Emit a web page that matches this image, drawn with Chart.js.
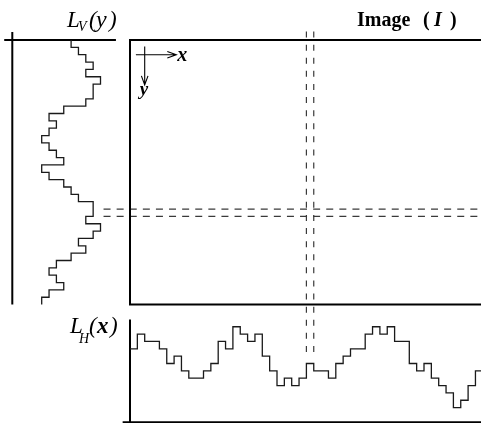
<!DOCTYPE html>
<html>
<head>
<meta charset="utf-8">
<script src="https://cdn.jsdelivr.net/npm/chart.js@4.4.1/dist/chart.umd.min.js"></script>
<style>
    html, body { margin: 0; padding: 0; background: #fff; }
    #marco { position: relative; width: 481px; height: 423px; }
</style>
</head>
<body>
<div id="marco"><canvas id="grafico" width="481" height="423"></canvas></div>
<script>
// proyección vertical L_V(y): un valor por fila de la imagen, de arriba abajo
const perfilV = [8, 9, 10, 11, 10, 12, 11, 11, 10, 7, 5, 6, 5, 4, 5, 6, 7, 4, 5, 7,
                 8, 9, 11, 11, 10, 12, 11, 9, 10, 8, 6, 5, 6, 7, 5, 4];
// proyección horizontal L_H(x): un valor por columna, de izquierda a derecha
const perfilH = [10, 12, 11, 11, 10, 8, 9, 7, 6, 6, 7, 8, 11, 10, 13, 12, 11, 12, 9, 7,
                 5, 6, 5, 6, 8, 7, 7, 6, 8, 9, 10, 10, 12, 13, 12, 13, 11, 11, 8, 7,
                 8, 6, 5, 4, 2, 3, 5, 7];
// fila y columna marcadas con las líneas discontinuas
const filaSel = 23;
const colSel = 24;

(() => {
    const W = 481, H = 423;
    const paso = 7.35;              // px por unidad (fila, columna o nivel)
    const imgX = 130, imgY = 40;    // esquina de la imagen
    const ejeV = 12.3;              // eje de L_V
    const ejeH = 422.3;             // eje de L_H

    const filas = perfilV.length;
    const cols = perfilH.length;

    const linea = (data, ejes, extra) => Object.assign({
        data,
        xAxisID: ejes[0],
        yAxisID: ejes[1],
        borderColor: '#000',
        borderWidth: 2,
        pointRadius: 0,
        fill: false
    }, extra || {});

    // los perfiles escalonados
    const puntosV = perfilV.map((v, i) => ({ x: v, y: i }));
    puntosV.push({ x: perfilV[filas - 1], y: filas });
    const puntosH = perfilH.map((v, i) => ({ x: i, y: v }));
    puntosH.push({ x: cols, y: perfilH[cols - 1] });

    const discV = { borderColor: '#3a3a3a', borderWidth: 1.2, borderDash: [6, 7.1] };
    const discH = { borderColor: '#3a3a3a', borderWidth: 1.2, borderDash: [7, 6.1] };

    const datasets = [
        linea(puntosV, ['xValV', 'yFila'], { stepped: 'after', borderColor: '#1a1a1a', borderWidth: 1.3 }),
        linea(puntosH, ['xCol', 'yValH'], { stepped: 'before', borderColor: '#1a1a1a', borderWidth: 1.3 }),
        // marco de la imagen
        linea([{ x: cols, y: 0 }, { x: 0, y: 0 }, { x: 0, y: filas }, { x: cols, y: filas }], ['xCol', 'yFila']),
        // ejes de L_V
        linea([{ x: 0, y: -1.1 }, { x: 0, y: filas }], ['xValV', 'yFila']),
        linea([{ x: -1.1, y: 0 }, { x: 14.1, y: 0 }], ['xValV', 'yFila']),
        // ejes de L_H
        linea([{ x: 0, y: -0.3 }, { x: 0, y: 14 }], ['xCol', 'yValH']),
        linea([{ x: -1, y: 0 }, { x: cols, y: 0 }], ['xCol', 'yValH']),
        // columna y fila seleccionadas
        linea([{ x: colSel, y: -1.15 }, { x: colSel, y: 42.9 }], ['xCol', 'yFila'], discV),
        linea([{ x: colSel + 1, y: -1.15 }, { x: colSel + 1, y: 42.9 }], ['xCol', 'yFila'], discV),
        linea([{ x: -3.6, y: filaSel }, { x: cols, y: filaSel }], ['xCol', 'yFila'], discH),
        linea([{ x: -3.6, y: filaSel + 1 }, { x: cols, y: filaSel + 1 }], ['xCol', 'yFila'], discH)
    ];

    const oculto = { type: 'linear', display: false };
    const scales = {
        xCol: Object.assign({ axis: 'x', min: -imgX / paso, max: (W - imgX) / paso }, oculto),
        yFila: Object.assign({ axis: 'y', reverse: true, min: -imgY / paso, max: (H - imgY) / paso }, oculto),
        xValV: Object.assign({ axis: 'x', min: -ejeV / paso, max: (W - ejeV) / paso }, oculto),
        yValH: Object.assign({ axis: 'y', min: -(H - ejeH) / paso, max: ejeH / paso }, oculto)
    };

    const serif = '"Liberation Serif", "DejaVu Serif", serif';
    const f = (estilo, tam) => estilo + ' ' + tam + 'px ' + serif;

    // rótulos y flechas de ejes dentro de la imagen
    const rotulos = {
        id: 'rotulos',
        afterDraw(chart) {
            const { ctx } = chart;
            const px = v => chart.scales.xCol.getPixelForValue(v);
            const py = v => chart.scales.yFila.getPixelForValue(v);
            ctx.save();
            ctx.fillStyle = '#000';
            ctx.strokeStyle = '#000';
            ctx.textBaseline = 'alphabetic';

            // cada trozo: [texto, fuente, x, y]
            const trozos = lista => lista.forEach(([txt, font, x, y]) => {
                ctx.font = font;
                ctx.fillText(txt, x, y);
            });

            trozos([
                ['L', f('italic', 23), 67, 27],
                ['V', f('italic', 14), 78, 31],
                ['(', f('italic', 23), 89, 27],
                ['y', f('italic', 24), 96, 27],
                [')', f('italic', 23), 109, 27],

                ['L', f('italic', 23), 70, 333],
                ['H', f('italic', 14), 79, 343],
                ['(', f('italic', 23), 89, 333],
                ['x', f('bold italic', 23), 97, 333],
                [')', f('italic', 23), 110, 333],

                ['Image', f('bold', 20), 357, 26],
                ['(', f('bold', 20), 423, 26],
                ['I', f('bold italic', 20), 434, 26],
                [')', f('bold', 20), 450, 26]
            ]);

            // flechas x / y
            const ox = px(2), oy = py(2);
            const x1 = px(6.3), y1 = py(6.1);
            ctx.lineWidth = 1.1;
            ctx.beginPath();
            ctx.moveTo(px(0.8), oy); ctx.lineTo(x1, oy);
            ctx.moveTo(x1 - 9, oy - 3.3); ctx.lineTo(x1, oy); ctx.lineTo(x1 - 9, oy + 3.3);
            ctx.moveTo(ox, py(0.9)); ctx.lineTo(ox, y1);
            ctx.moveTo(ox - 3.3, y1 - 9); ctx.lineTo(ox, y1); ctx.lineTo(ox + 3.3, y1 - 9);
            ctx.stroke();

            ctx.font = f('bold italic', 20);
            ctx.fillText('x', x1 + 1, oy + 6);
            ctx.font = f('bold italic', 19);
            ctx.fillText('y', ox - 5, y1 + 10);
            ctx.restore();
        }
    };

    new Chart(document.getElementById('grafico').getContext('2d'), {
        type: 'line',
        data: { datasets },
        options: {
            responsive: false,
            animation: false,
            events: [],
            layout: { padding: 0, autoPadding: false },
            scales,
            plugins: {
                legend: { display: false },
                title: { display: false },
                tooltip: { enabled: false }
            }
        },
        plugins: [rotulos]
    });
})();
</script>
</body>
</html>
